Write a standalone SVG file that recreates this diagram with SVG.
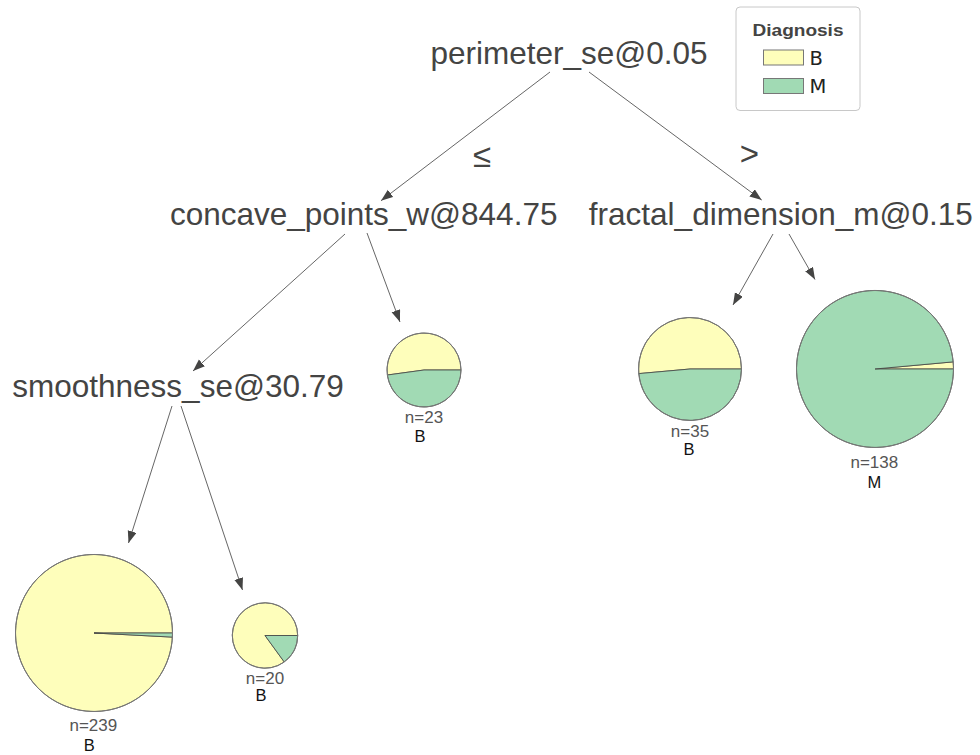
<svg xmlns="http://www.w3.org/2000/svg" width="980" height="755" viewBox="0 0 980 755">
<defs>
<marker id="arr" markerUnits="userSpaceOnUse" markerWidth="13" markerHeight="10" refX="12" refY="4.5" orient="auto">
<path d="M0,0 L12,4.5 L0,9 Z" fill="#444443"/>
</marker>
<style>
.split{font-family:"Liberation Sans",Arial,sans-serif;font-size:31.5px;fill:#444443;text-anchor:middle}
.op{font-family:"Liberation Sans",Arial,sans-serif;font-size:33px;fill:#444443;text-anchor:middle}
.edge{stroke:#666;stroke-width:1;fill:none;marker-end:url(#arr)}
.b{fill:#FEFEBB;stroke:#444443;stroke-width:0.8}
.m{fill:#A1DAB4;stroke:#444443;stroke-width:0.8}
.rim{fill:none;stroke:#777;stroke-width:1}
.n{font-family:"Liberation Sans",Arial,sans-serif;font-size:17px;fill:#555;text-anchor:middle}
.cls{font-family:"Liberation Sans",Arial,sans-serif;font-size:16.5px;fill:#111;text-anchor:middle}
.leg{font-family:"DejaVu Sans",sans-serif;font-size:19.5px;fill:#222}
</style>
</defs>
<rect width="980" height="755" fill="#fff"/>

<g id="connectors">
<line class="edge" x1="550" y1="72" x2="381" y2="200.7"/>
<line class="edge" x1="589" y1="72" x2="761.7" y2="200"/>
<line class="edge" x1="345" y1="234" x2="193" y2="371"/>
<line class="edge" x1="367" y1="233" x2="400" y2="322"/>
<line class="edge" x1="773" y1="234" x2="733" y2="305"/>
<line class="edge" x1="789" y1="234" x2="815" y2="279.5"/>
<line class="edge" x1="172" y1="406" x2="128.5" y2="543"/>
<line class="edge" x1="181" y1="406" x2="242.5" y2="590"/>
<text class="op" x="482" y="167">≤</text>
<text class="op" x="749.5" y="165">&gt;</text>
</g>

<g id="root"><text class="split" x="569" y="64">perimeter_se@0.05</text></g>
<g id="concave"><text class="split" x="363.7" y="225">concave_points_w@844.75</text></g>
<g id="fractal"><text class="split" x="780.8" y="225">fractal_dimension_m@0.15</text></g>
<g id="smoothness"><text class="split" x="178" y="396.5">smoothness_se@30.79</text></g>

<g id="leaf23">
<path class="b" d="M424,370 L461,370 A37,37 0 1 0 387.34,375.02 Z"/>
<path class="m" d="M424,370 L387.34,375.02 A37,37 0 0 0 461,370 Z"/>
<circle class="rim" cx="424" cy="370" r="37"/>
<text class="n" x="424" y="422.5">n=23</text>
<text class="cls" x="420" y="442">B</text>
</g>

<g id="leaf35">
<path class="b" d="M690,369 L741.5,369 A51.5,51.5 0 1 0 638.71,373.61 Z"/>
<path class="m" d="M690,369 L638.71,373.61 A51.5,51.5 0 0 0 741.5,369 Z"/>
<circle class="rim" cx="690" cy="369" r="51.5"/>
<text class="n" x="690" y="437">n=35</text>
<text class="cls" x="689" y="455">B</text>
</g>

<g id="leaf138">
<path class="b" d="M875,369 L953.5,369 A78.5,78.5 0 0 0 953.18,361.86 Z"/>
<path class="m" d="M875,369 L953.18,361.86 A78.5,78.5 0 1 0 953.5,369 Z"/>
<circle class="rim" cx="875" cy="369" r="78.5"/>
<text class="n" x="874.3" y="467.5">n=138</text>
<text class="cls" x="874.3" y="488">M</text>
</g>

<g id="leaf239">
<path class="b" d="M94,633 L172.5,633 A78.5,78.5 0 1 0 172.39,637.12 Z"/>
<path class="m" d="M94,633 L172.39,637.12 A78.5,78.5 0 0 0 172.5,633 Z"/>
<circle class="rim" cx="94" cy="633" r="78.5"/>
<text class="n" x="93.3" y="730.5">n=239</text>
<text class="cls" x="89.3" y="751">B</text>
</g>

<g id="leaf20">
<path class="b" d="M265,635.5 L297.7,635.5 A32.7,32.7 0 1 0 284.22,661.95 Z"/>
<path class="m" d="M265,635.5 L284.22,661.95 A32.7,32.7 0 0 0 297.7,635.5 Z"/>
<circle class="rim" cx="265" cy="635.5" r="32.7"/>
<text class="n" x="265" y="683.5">n=20</text>
<text class="cls" x="261" y="701">B</text>
</g>

<g id="legend">
<rect x="736" y="7" width="124" height="103.5" rx="4" fill="#fff" stroke="#c8c8c8" stroke-width="1"/>
<text x="798" y="36" font-family="Liberation Sans, Arial, sans-serif" font-size="17" font-weight="bold" fill="#444443" text-anchor="middle" textLength="91" lengthAdjust="spacingAndGlyphs">Diagnosis</text>
<rect x="763.5" y="50" width="40" height="15" fill="#FEFEBB" stroke="#777" stroke-width="1"/>
<text class="leg" x="809.5" y="64.5">B</text>
<rect x="763.5" y="78.5" width="40" height="15" fill="#A1DAB4" stroke="#777" stroke-width="1"/>
<text class="leg" x="809.5" y="93">M</text>
</g>
</svg>
